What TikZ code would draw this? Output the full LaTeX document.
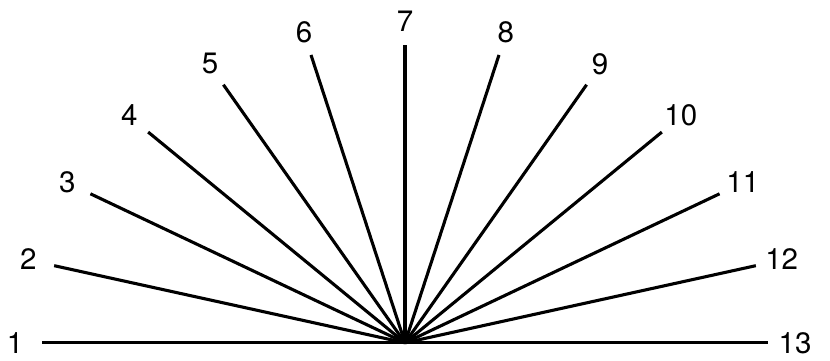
\documentclass[tikz,border=0pt]{standalone}
\usepackage{fontspec}
\setmainfont{TeX Gyre Heros}
\usetikzlibrary{positioning, calc}

\begin{document}
\begin{tikzpicture}[x=1cm, y=1cm,
    ray/.style={line width=2.2pt, line cap=butt},
    raylabel/.style={font=\fontsize{21}{25}\selectfont, inner sep=0pt}]
  \useasboundingbox (0,0) rectangle (20.75,9);
  \coordinate (hub) at (10.125,0.43);
  % rays and their numbers
  \foreach \i in {1,...,13} {
    \pgfmathsetmacro{\ang}{180-15*(\i-1)}
    \coordinate (tip\i) at ($(hub)+({9.08*cos(\ang)},{7.45*sin(\ang)})$);
    \node[raylabel] (num\i) at ($(hub)+({9.75*cos(\ang)},{8.05*sin(\ang)})$) {\i};
    \draw[ray] (hub) -- (tip\i);
  }
\end{tikzpicture}
\end{document}
